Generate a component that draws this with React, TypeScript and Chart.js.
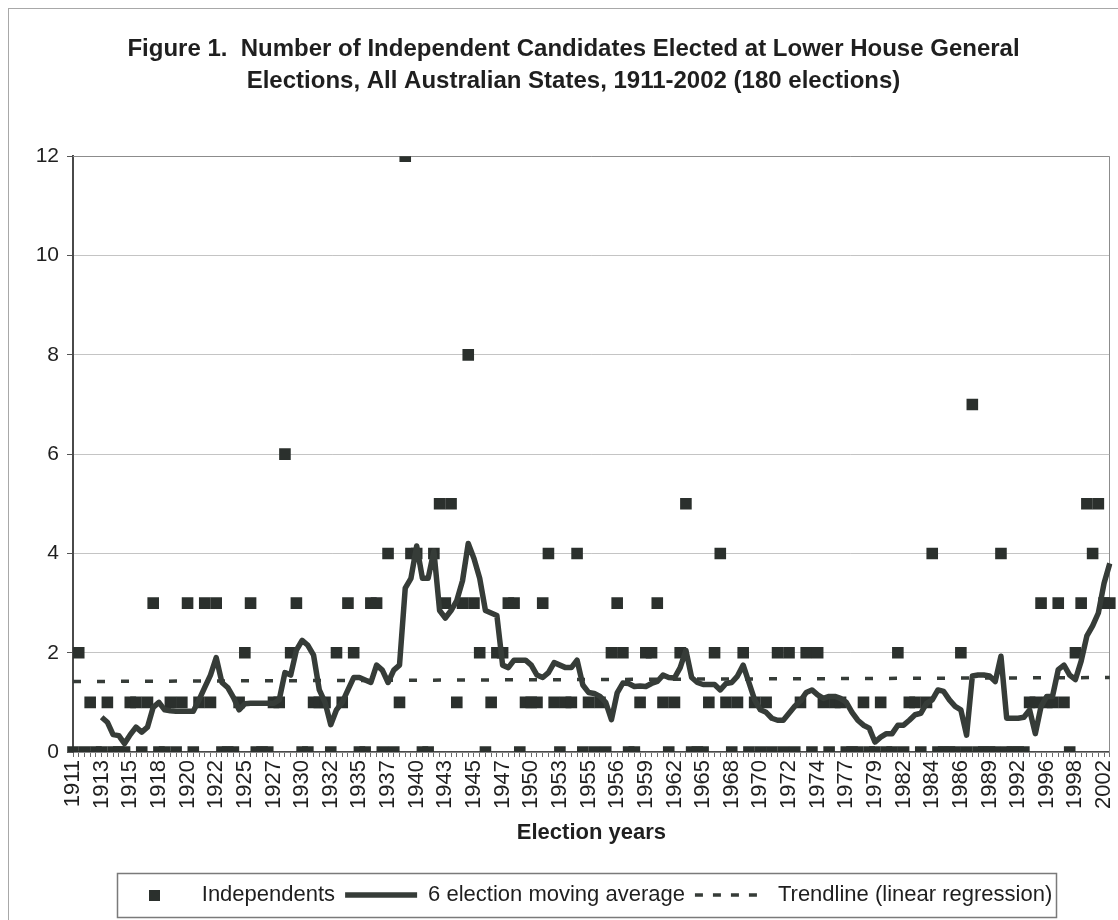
import React, { useEffect, useRef } from 'react';
import { Chart, registerables } from 'chart.js';

Chart.register(...registerables);

// Tick labels shown on the category axis (every fifth election)
const tickYears = [
  '1911', '1913', '1915', '1918', '1920', '1922', '1925', '1927', '1930', '1932',
  '1935', '1937', '1940', '1943', '1945', '1947', '1950', '1953', '1955', '1956',
  '1959', '1962', '1965', '1968', '1970', '1972', '1974', '1977', '1979', '1982',
  '1984', '1986', '1989', '1992', '1996', '1998', '2002',
];

// Independents elected at each election
const independents = [
  0, 2, 0, 1, 0, 0, 1, 0, 0, 0,
  1, 1, 0, 1, 3, 0, 0, 1, 0, 1,
  3, 0, 1, 3, 1, 3, 0, 0, 0, 1,
  2, 3, 0, 0, 0, 1, 1, 6, 2, 3,
  0, 0, 1, 1, 1, 0, 2, 1, 3, 2,
  0, 0, 3, 3, 0, 4, 0, 1, 12, 4,
  4, 0, 0, 4, 5, 3, 5, 1, 3, 8,
  3, 2, 0, 1, 2, 2, 3, 3, 0, 1,
  1, 1, 3, 4, 1, 0, 1, 1, 4, 0,
  1, 0, 1, 0, 2, 3, 2, 0, 0, 1,
  2, 2, 3, 1, 0, 1, 2, 5, 0, 0,
  0, 1, 2, 4, 1, 0, 1, 2, 0, 1,
  0, 1, 0, 2, 0, 2, 0, 1, 2, 0,
  2, 1, 0, 1, 1, 0, 0, 0, 1, 0,
  0, 1, 0, 0, 2, 0, 1, 1, 0, 1,
  4, 0, 0, 0, 0, 2, 0, 7, 0, 0,
  0, 0, 4, 0, 0, 0, 0, 1, 1, 3,
  1, 1, 3, 1, 0, 2, 3, 5, 4, 5,
  3, 3,
];

// 6 election moving average
const movingAverage = [
  null, null, null, null, null, 0.7, 0.6, 0.35, 0.33, 0.17,
  0.35, 0.5, 0.4, 0.5, 0.9, 1.0, 0.85, 0.83, 0.82, 0.82,
  0.82, 0.82, 1.05, 1.3, 1.55, 1.9, 1.4, 1.3, 1.1, 0.85,
  0.97, 0.98, 0.98, 0.98, 0.98, 0.98, 1.05, 1.6, 1.55, 2.05,
  2.25, 2.15, 1.95, 1.25, 1.0, 0.55, 0.85, 1.0, 1.25, 1.5,
  1.5, 1.45, 1.4, 1.75, 1.65, 1.4, 1.65, 1.75, 3.3, 3.5,
  4.15, 3.5, 3.5, 4.05, 2.85, 2.7, 2.85, 3.05, 3.45, 4.2,
  3.9, 3.5, 2.85, 2.8, 2.75, 1.75, 1.7, 1.85, 1.85, 1.85,
  1.75, 1.55, 1.5, 1.6, 1.8, 1.75, 1.7, 1.7, 1.85, 1.35,
  1.2, 1.18, 1.12, 1.0, 0.65, 1.19, 1.39, 1.38, 1.32, 1.33,
  1.32, 1.38, 1.42, 1.55, 1.5, 1.49, 1.7, 2.05, 1.5, 1.4,
  1.36, 1.36, 1.36, 1.25, 1.38, 1.4, 1.53, 1.75, 1.4, 1.05,
  0.85, 0.8, 0.68, 0.64, 0.64, 0.78, 0.92, 1.03, 1.2, 1.25,
  1.15, 1.08, 1.12, 1.12, 1.08, 1.0, 0.8, 0.64, 0.54, 0.48,
  0.2, 0.3, 0.37, 0.37, 0.54, 0.54, 0.64, 0.75, 0.78, 0.98,
  1.05, 1.25, 1.22, 1.05, 0.92, 0.85, 0.34, 1.53, 1.55, 1.55,
  1.53, 1.42, 1.93, 0.68, 0.68, 0.68, 0.7, 0.85, 0.37, 0.92,
  1.12, 1.12, 1.66, 1.75, 1.55, 1.46, 1.83, 2.34, 2.54, 2.8,
  3.4, 3.8,
];

// Linear regression trendline: value at first and last election
const trendline = [1.42, 1.5];

const electionNumbers = independents.map((_, i) => String(i + 1));

const FONT = '"Liberation Sans", Arial, Helvetica, sans-serif';
const INK = '#2b302d';
const LINE = '#363c38';
const TEXT = '#1f1f1f';

export default function App() {
  const ref = useRef<HTMLCanvasElement | null>(null);

  useEffect(() => {
    if (!ref.current) return;
    const last = independents.length - 1;
    const trendData = independents.map((_, i) =>
      i === 0 ? trendline[0] : i === last ? trendline[1] : null
    );

    const legendSquare = document.createElement('canvas');
    legendSquare.width = 11;
    legendSquare.height = 11;
    const lctx = legendSquare.getContext('2d');
    if (lctx) {
      lctx.fillStyle = INK;
      lctx.fillRect(0, 0, 11, 11);
    }

    const plotFrame = {
      id: 'plotFrame',
      beforeDatasetsDraw(chart: any) {
        const { ctx, chartArea: a } = chart;
        ctx.save();
        ctx.strokeStyle = '#8c8c8c';
        ctx.lineWidth = 1;
        ctx.beginPath();
        ctx.moveTo(a.left, Math.round(a.top) + 0.5);
        ctx.lineTo(Math.round(a.right) - 0.5, Math.round(a.top) + 0.5);
        ctx.lineTo(Math.round(a.right) - 0.5, a.bottom);
        ctx.stroke();
        ctx.restore();
      },
    };

    const blockShift = {
      id: 'blockShift',
      afterLayout(chart: any) {
        const lg = chart.legend;
        if (lg) {
          lg.left += 16;
          lg.right += 16;
        }
        const tb = chart.titleBlock;
        if (tb) {
          tb.left += 4;
          tb.right += 4;
        }
      },
    };

    const legendFrame = {
      id: 'legendFrame',
      afterDraw(chart: any) {
        const boxes = chart.legend && chart.legend.legendHitBoxes;
        if (!boxes || !boxes.length) return;
        const left = Math.min(...boxes.map((b: any) => b.left)) - 2;
        const right = Math.max(...boxes.map((b: any) => b.left + b.width)) + 4;
        const top = Math.min(...boxes.map((b: any) => b.top)) - 11;
        const bottom = Math.max(...boxes.map((b: any) => b.top + b.height)) + 11;
        const ctx = chart.ctx;
        ctx.save();
        ctx.strokeStyle = '#7a7a7a';
        ctx.lineWidth = 1.5;
        ctx.strokeRect(Math.round(left) + 0.5, Math.round(top) + 0.5, Math.round(right - left), Math.round(bottom - top));
        ctx.restore();
      },
    };

    const chart = new Chart(ref.current, {
      type: 'line',
      data: {
        labels: electionNumbers,
        datasets: [
          {
            label: 'Independents',
            data: independents,
            showLine: false,
            pointStyle: 'rect',
            pointRadius: 8.2,
            pointBackgroundColor: INK,
            pointBorderColor: INK,
            pointBorderWidth: 0,
            borderColor: INK,
            backgroundColor: INK,
            order: 3,
          },
          {
            label: '6 election moving average',
            data: movingAverage,
            borderColor: LINE,
            backgroundColor: LINE,
            borderWidth: 5.5,
            borderJoinStyle: 'round',
            pointRadius: 0,
            tension: 0,
            order: 1,
          },
          {
            label: 'Trendline (linear regression)',
            data: trendData,
            spanGaps: true,
            borderColor: LINE,
            backgroundColor: LINE,
            borderWidth: 3.5,
            borderDash: [8, 16],
            pointRadius: 0,
            order: 2,
          },
        ],
      },
      options: {
        animation: false,
        responsive: false,
        maintainAspectRatio: false,
        devicePixelRatio: 1,
        events: [],
        layout: { padding: { left: 20, right: 8, top: 0, bottom: 4 } },
        plugins: {
          title: {
            display: true,
            text: [
              'Figure 1.  Number of Independent Candidates Elected at Lower House General',
              'Elections, All Australian States, 1911-2002 (180 elections)',
            ],
            color: TEXT,
            font: { family: FONT, size: 24, weight: 'bold', lineHeight: 1.34 },
            padding: { top: 24, bottom: 59 },
          },
          legend: {
            position: 'bottom',
            labels: {
              usePointStyle: true,
              pointStyleWidth: 72,
              boxHeight: 11,
              padding: 10,
              color: TEXT,
              font: { family: FONT, size: 22 },
              generateLabels: (c: any) =>
                c.data.datasets.map((ds: any, i: number) => ({
                  text: ds.label,
                  datasetIndex: i,
                  fontColor: TEXT,
                  hidden: false,
                  pointStyle: i === 0 ? legendSquare : 'line',
                  fillStyle: INK,
                  strokeStyle: LINE,
                  lineWidth: i === 0 ? 0 : i === 1 ? 5.5 : 3.5,
                  lineDash: i === 2 ? [8, 10] : [],
                })),
            },
          },
          tooltip: { enabled: false },
        },
        scales: {
          x: {
            type: 'category',
            offset: false,
            afterFit: (s: any) => {
              s.height = 122;
              s.paddingRight = 0;
              s.paddingLeft = 0;
            },
            grid: {
              display: true,
              drawOnChartArea: false,
              drawTicks: true,
              tickLength: 5,
              tickColor: '#6a6a6a',
            },
            border: { display: true, color: '#4a4a4a', width: 1.5 },
            ticks: {
              autoSkip: false,
              minRotation: 90,
              maxRotation: 90,
              padding: 3,
              color: TEXT,
              font: { family: FONT, size: 22 },
              callback: (_v: any, index: number) =>
                index % 5 === 0 && tickYears[index / 5] !== undefined ? tickYears[index / 5] : '',
            },
            title: {
              display: true,
              text: 'Election years',
              color: TEXT,
              font: { family: FONT, size: 22, weight: 'bold' },
              padding: { top: 0, bottom: 28 },
            },
          },
          y: {
            min: 0,
            max: 12,
            afterFit: (s: any) => {
              s.width = 44;
            },
            grid: {
              color: '#c4c4c4',
              lineWidth: 1,
              drawTicks: true,
              tickLength: 6,
              tickColor: '#555555',
            },
            border: { display: true, color: '#4a4a4a', width: 2 },
            ticks: {
              stepSize: 2,
              padding: 8,
              color: TEXT,
              font: { family: FONT, size: 21 },
            },
          },
        },
      },
      plugins: [plotFrame, blockShift, legendFrame],
    } as any);

    return () => chart.destroy();
  }, []);

  return (
    <div
      style={{
        position: 'absolute',
        left: 8,
        top: 8,
        width: 1110,
        height: 912,
        boxSizing: 'border-box',
        borderTop: '1px solid #a8a8a8',
        borderLeft: '1px solid #a8a8a8',
        background: '#ffffff',
        overflow: 'hidden',
      }}
    >
      <canvas ref={ref} width={1109} height={911} style={{ display: 'block' }} />
    </div>
  );
}
